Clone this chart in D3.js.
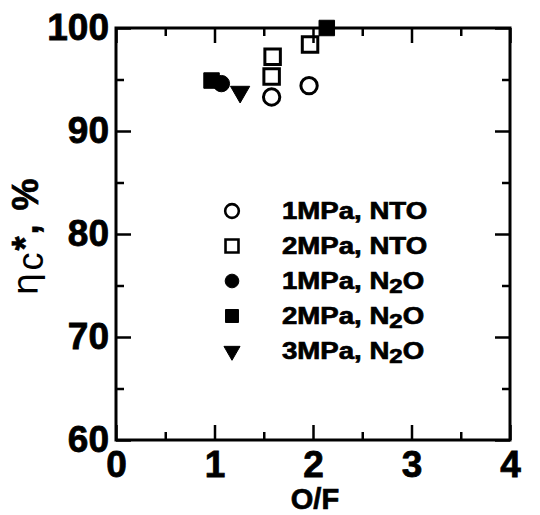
<!DOCTYPE html>
<html>
<head>
<meta charset="utf-8">
<script src="https://cdn.jsdelivr.net/npm/d3@7"></script>
<style>
body{margin:0;background:#fff;}
</style>
</head>
<body>
<svg id="chart" width="540" height="515"></svg>
<script>
// c* efficiency vs O/F for each test series
const seriesNames = ['1MPa, NTO','2MPa, NTO','1MPa, N2O','2MPa, N2O','3MPa, N2O'];
const seriesSymbols = ['circle','square','circle','square','triangle'];
const seriesFilled = [false,false,true,true,true];
const ofValues = [[1.58,1.96],[1.58,1.59,1.97],[1.07],[0.97,2.14],[1.26]];
const etaValues = [[93.3,94.4],[95.3,97.2,98.4],[94.6],[94.9,100.0],[93.8]];

// tick labels
const xTicks = [0,1,2,3,4];
const yTicks = [60,70,80,90,100];
const xMinor = [0.5,1.5,2.5,3.5];
const yMinor = [65,75,85,95];

const fontFamily = '"Liberation Sans",Arial,Helvetica,sans-serif';

const svg = d3.select('#chart')
    .attr('font-family',fontFamily)
    .attr('font-weight','bold');

const plotLeft = 116, plotRight = 510, plotTop = 28, plotBottom = 440;

const xScale = d3.scaleLinear().domain([0,4]).range([plotLeft,plotRight]);
const yScale = d3.scaleLinear().domain([60,100]).range([plotBottom,plotTop]);

//ticks on all four sides, pointing inward
function tickAxis(axis, values, size, labels){
    return axis.tickValues(values).tickSize(-size).tickSizeOuter(0)
        .tickFormat(labels ? d3.format('d') : '');
}

const axes = [
    [()=>d3.axisBottom(xScale), `translate(0,${plotBottom})`, xTicks, xMinor, true],
    [()=>d3.axisTop(xScale), `translate(0,${plotTop})`, xTicks, xMinor, false],
    [()=>d3.axisLeft(yScale), `translate(${plotLeft},0)`, yTicks, yMinor, true],
    [()=>d3.axisRight(yScale), `translate(${plotRight},0)`, yTicks, yMinor, false]
];

axes.forEach(([makeAxis, tr, major, minor, labels], i)=>{
    const gMinor = svg.append('g').attr('transform',tr)
        .call(tickAxis(makeAxis(), minor, 8, false));
    gMinor.select('.domain').remove();
    const g = svg.append('g').attr('transform',tr)
        .call(tickAxis(makeAxis(), major, 15, labels).tickPadding(i===0 ? 11 : 7));
    g.select('.domain').remove();
    g.selectAll('text')
        .attr('font-size',37)
        .attr('font-family',fontFamily)
        .attr('font-weight','bold')
        .attr('fill','#000')
        .attr('stroke','#000')
        .attr('stroke-width',0.8);
});
svg.selectAll('.tick line').attr('stroke','#000').attr('stroke-width',2.5);

//frame
svg.append('rect')
    .attr('x',plotLeft).attr('y',plotTop)
    .attr('width',plotRight-plotLeft).attr('height',plotBottom-plotTop)
    .attr('fill','none').attr('stroke','#000').attr('stroke-width',3);

//markers
function symbolPath(type, size){
    const t = type==='circle' ? d3.symbolCircle : type==='square' ? d3.symbolSquare : d3.symbolTriangle;
    return d3.symbol().type(t).size(size)();
}
const sizes = {circle:210, square:240, triangle:160};

seriesNames.forEach((name,i)=>{
    const pts = ofValues[i].map((of,j)=>({of:of, eta:etaValues[i][j]}));
    svg.selectAll(null)
        .data(pts)
        .enter()
        .append('path')
        .attr('d', symbolPath(seriesSymbols[i], sizes[seriesSymbols[i]]))
        .attr('transform', d=>`translate(${xScale(d.of)},${yScale(d.eta)})` + (seriesSymbols[i]==='triangle' ? ' rotate(180)' : ''))
        .attr('fill', seriesFilled[i] ? '#000' : 'none')
        .attr('stroke','#000')
        .attr('stroke-width', seriesFilled[i] ? 1 : 3);
});

//legend
const legendTop = 211, legendStep = 35;
seriesNames.forEach((name,i)=>{
    const cy = legendTop + i*legendStep;
    svg.append('path')
        .attr('d', symbolPath(seriesSymbols[i], sizes[seriesSymbols[i]]*0.7))
        .attr('transform', `translate(232,${cy})` + (seriesSymbols[i]==='triangle' ? ' rotate(180)' : ''))
        .attr('fill', seriesFilled[i] ? '#000' : 'none')
        .attr('stroke','#000')
        .attr('stroke-width', seriesFilled[i] ? 1 : 2.6);

    const t = svg.append('text')
        .attr('transform',`translate(282,${cy+8}) scale(1.2,1)`)
        .attr('font-size',23)
        .attr('fill','#000')
        .attr('stroke','#000')
        .attr('stroke-width',0.7);
    const parts = name.match(/^(.*N)2(O)$/);
    if(parts){
        t.append('tspan').text(parts[1]);
        t.append('tspan').attr('font-size',20).attr('dy',4).text('2');
        t.append('tspan').attr('dy',-4).text(parts[2]);
    } else {
        t.text(name);
    }
});

//axis titles
svg.append('text')
    .attr('x',xScale(2.02))
    .attr('y',509)
    .attr('text-anchor','middle')
    .attr('font-size',29)
    .attr('fill','#000')
    .attr('stroke','#000')
    .attr('stroke-width',0.7)
    .text('O/F');

const yLabel = svg.append('text')
    .attr('transform','translate(38,236) rotate(-90)')
    .attr('text-anchor','middle')
    .attr('font-size',36)
    .attr('letter-spacing',2)
    .attr('fill','#000');
yLabel.append('tspan').attr('font-family','"DejaVu Sans",sans-serif').attr('font-weight','normal').text('η');
yLabel.append('tspan').attr('font-weight','normal').attr('dy',5).text('c');
yLabel.append('tspan').attr('dy',-5).attr('stroke','#000').attr('stroke-width',0.7).text('*, %');
</script>
</body>
</html>
